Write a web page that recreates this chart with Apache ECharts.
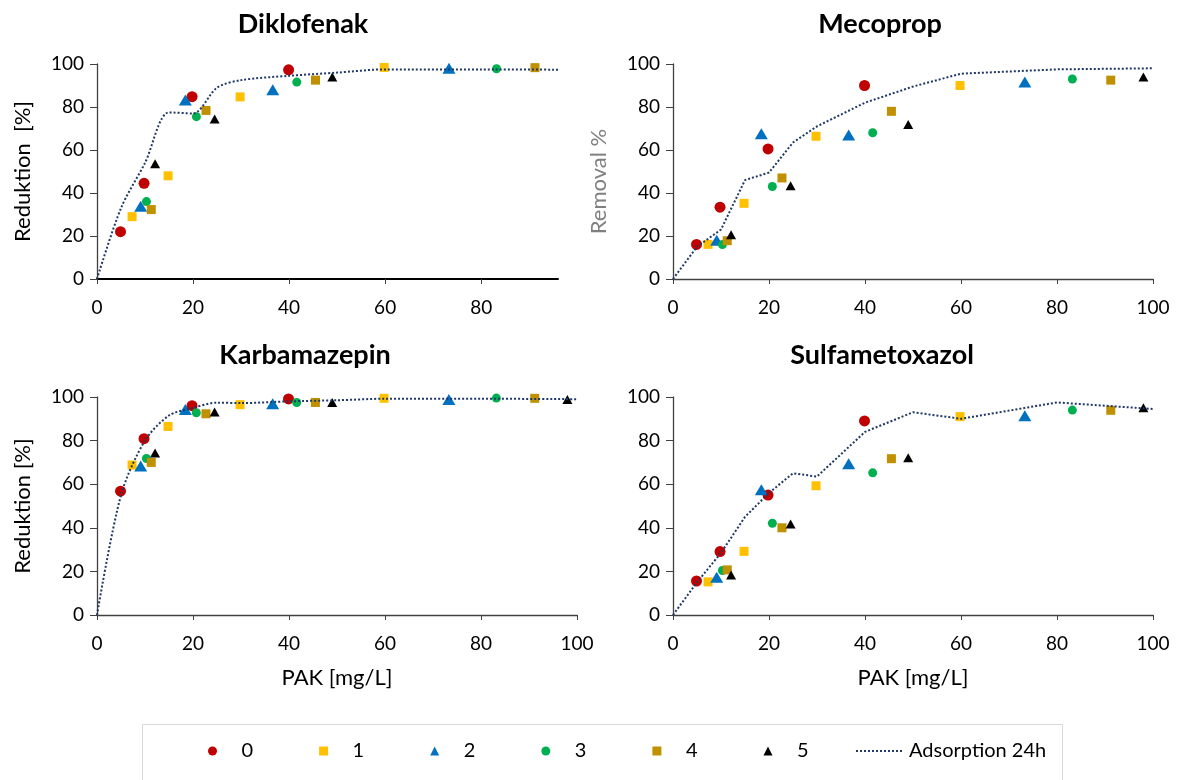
<!DOCTYPE html>
<html>
<head>
<meta charset="utf-8">
<script src="https://cdn.jsdelivr.net/npm/echarts@6/dist/echarts.min.js"></script>
<style>
  html, body { margin: 0; padding: 0; background: #fff; }
  #chart { width: 1180px; height: 780px; }
</style>
</head>
<body>
<div id="chart"></div>
<script>
// PAK doses [mg/L] per test series 0..5 (same in every panel)
const pakDose0 = [4.9, 9.8, 19.8, 39.9];
const pakDose1 = [7.3, 14.8, 29.8, 59.8];
const pakDose2 = [9.1, 18.4, 36.6, 73.3];
const pakDose3 = [10.3, 20.7, 41.6, 83.2];
const pakDose4 = [11.3, 22.7, 45.5, 91.2];
const pakDose5 = [12.1, 24.5, 49.0, 98.0];
const pakDoses = [pakDose0, pakDose1, pakDose2, pakDose3, pakDose4, pakDose5];

// Reduktion [%] per series 0..5
const diklofenakY = [
    [22, 44.5, 84.8, 97.3],
    [29, 48, 84.7, 98.4],
    [33.8, 83.3, 88, 98],
    [36, 75.5, 91.6, 97.8],
    [32.3, 78.4, 92.5, 98.3],
    [53.6, 74.4, 93.9, null]
];
const mecopropY = [
    [16.1, 33.4, 60.5, 90],
    [16.1, 35.2, 66.4, 90],
    [18, 67.6, 67, 91.6],
    [16, 43, 68, 93],
    [17.8, 47, 78, 92.5],
    [20.6, 43.4, 71.9, 93.9]
];
const karbamazepinY = [
    [56.8, 80.9, 96, 99.1],
    [68.8, 86.5, 96.5, 99.4],
    [68.3, 94.3, 96.9, 98.9],
    [71.8, 92.8, 97.5, 99.5],
    [70, 92.3, 97.5, 99.4],
    [74.3, 93.1, 97.5, 98.9]
];
const sulfametoxazolY = [
    [15.6, 29.1, 55, 89],
    [15.2, 29.2, 59.3, 91],
    [17.3, 57.4, 69.4, 91.4],
    [20.4, 42.1, 65.2, 94],
    [20.7, 40, 71.7, 93.9],
    [18.4, 41.8, 72.1, 95.1]
];

// Adsorption 24h reference curves
const adsorptionDose = [0, 5, 10, 15, 20, 25, 30, 40, 50, 60, 80, 100];
const diklofenakLine = [0, 33, 54, 77.5, 77, 89, 92.5, 94.5, 96, 97.5, 97.5, 97.3];
const mecopropLine = [0, 15, 23, 46, 49.5, 63.5, 71, 82, 89.5, 95.5, 97.5, 98];
const karbamazepinLine = [0, 55, 80, 91.5, 95, 97.4, 97.2, 98, 98.5, 99.2, 99.2, 99];
const sulfametoxazolLine = [0, 15, 28.5, 45, 56, 65, 63.5, 84, 93, 90, 97.5, 94.5];

const seriesNames = ['0', '1', '2', '3', '4', '5'];
const lineName = 'Adsorption 24h';

const colors = ['#C00000', '#FFC000', '#0070C0', '#00B050', '#BF9000', '#000000'];
const symbols = ['circle', 'rect', 'triangle', 'circle', 'rect', 'triangle'];
const symbolSizes = [11, 9, [13, 11], 9, 9, [10, 9]];
// legend icons as paths so that they keep a square aspect
const SQUARE = 'path://M0,0L10,0L10,10L0,10Z';
const TRIANGLE = 'path://M5,0L10,10L0,10Z';
const legendIcons = ['circle', SQUARE, TRIANGLE, 'circle', SQUARE, TRIANGLE];
const FONT = 'Lato';

const panels = [
    { title: 'Diklofenak', ys: diklofenakY, line: diklofenakLine, xMax: 96, smooth: 0.3,
      titleX: 298, titleY: 6,
      grid: { left: 97, top: 64, width: 461, height: 215 },
      yName: 'Reduktion  [%]', yNameColor: '#000', xName: '' },
    { title: 'Mecoprop', ys: mecopropY, line: mecopropLine, xMax: 100, smooth: false,
      titleX: 875, titleY: 6,
      grid: { left: 673, top: 64, width: 480, height: 215 },
      yName: 'Removal %', yNameColor: '#808080', xName: '' },
    { title: 'Karbamazepin', ys: karbamazepinY, line: karbamazepinLine, xMax: 100, smooth: 0.3,
      titleX: 300, titleY: 337,
      grid: { left: 97, top: 397, width: 480, height: 218 },
      yName: 'Reduktion [%]', yNameColor: '#000', xName: 'PAK [mg/L]' },
    { title: 'Sulfametoxazol', ys: sulfametoxazolY, line: sulfametoxazolLine, xMax: 100, smooth: false,
      titleX: 877, titleY: 337,
      grid: { left: 673, top: 397, width: 480, height: 218 },
      yName: '', yNameColor: '#000', xName: 'PAK [mg/L]' }
];

const titles = [], grids = [], xAxes = [], yAxes = [], series = [];

panels.forEach((p, i) => {
    titles.push({
        text: p.title,
        left: p.titleX,
        top: p.titleY,
        textAlign: 'center',
        textStyle: { fontFamily: FONT, fontSize: 27, fontWeight: 'bold', color: '#000' }
    });
    grids.push(Object.assign({ containLabel: false, outerBoundsMode: 'none' }, p.grid));

    const xTickVals = [];
    for (let v = 0; v <= p.xMax; v += 20) xTickVals.push(v);

    xAxes.push({
        gridIndex: i, type: 'value', min: 0, max: p.xMax, interval: 20,
        name: p.xName, nameLocation: 'middle', nameGap: 52,
        nameTextStyle: { fontFamily: FONT, fontSize: 22, color: '#000' },
        axisLine: { show: true, onZero: false, lineStyle: { color: i === 0 ? '#000' : '#404040', width: i === 0 ? 2 : 1.3 } },
        axisTick: { show: true, length: 5, customValues: xTickVals, lineStyle: { color: '#404040' } },
        axisLabel: { margin: 19, customValues: xTickVals, fontFamily: FONT, fontSize: 19, color: '#000' },
        splitLine: { show: false }
    });
    yAxes.push({
        gridIndex: i, type: 'value', min: 0, max: 100, interval: 20,
        name: p.yName, nameLocation: 'middle', nameGap: 63,
        nameTextStyle: { fontFamily: FONT, fontSize: 22, color: p.yNameColor,
                         padding: i === 1 ? [0, 20, 0, 0] : 0 },
        axisLine: { show: true, lineStyle: { color: '#404040', width: 1.3 } },
        axisTick: { show: true, length: 7, lineStyle: { color: '#404040' } },
        axisLabel: { margin: 13, fontFamily: FONT, fontSize: 19, color: '#000' },
        splitLine: { show: false }
    });

    seriesNames.forEach((name, s) => {
        const pts = [];
        pakDoses[s].forEach((x, k) => {
            if (p.ys[s][k] !== null) pts.push([x, p.ys[s][k]]);
        });
        series.push({
            name: name, type: 'scatter', xAxisIndex: i, yAxisIndex: i,
            data: pts, symbol: symbols[s], symbolSize: symbolSizes[s],
            itemStyle: { color: colors[s], opacity: 1 }, z: 3
        });
    });

    series.push({
        name: lineName, type: 'line', xAxisIndex: i, yAxisIndex: i,
        data: adsorptionDose.map((x, k) => [x, p.line[k]]),
        symbol: 'none', smooth: p.smooth,
        lineStyle: { color: '#1F3864', width: 2, type: [2, 2] },
        itemStyle: { color: '#1F3864' }, z: 4
    });
});

const legendText = { fontFamily: FONT, fontSize: 20, color: '#000' };

const chart = echarts.init(document.getElementById('chart'));
chart.setOption({
    backgroundColor: '#fff',
    animation: false,
    title: titles,
    grid: grids,
    xAxis: xAxes,
    yAxis: yAxes,
    legend: [{
        data: seriesNames.map((n, s) => ({ name: n, icon: legendIcons[s] })),
        left: 208, top: 741, padding: 0,
        itemWidth: 48, itemHeight: 9, itemGap: 66,
        symbolKeepAspect: true,
        textStyle: legendText
    }, {
        data: [{ name: lineName, itemStyle: { opacity: 0 } }],
        left: 855, top: 741, padding: 0,
        itemWidth: 48, itemHeight: 9,
        textStyle: legendText
    }],
    graphic: [{
        type: 'rect', left: 140, top: 722,
        shape: { width: 920, height: 80 },
        style: { fill: 'none', stroke: '#D9D9D9', lineWidth: 1 },
        silent: true, z: -1
    }],
    series: series
});
</script>
</body>
</html>
